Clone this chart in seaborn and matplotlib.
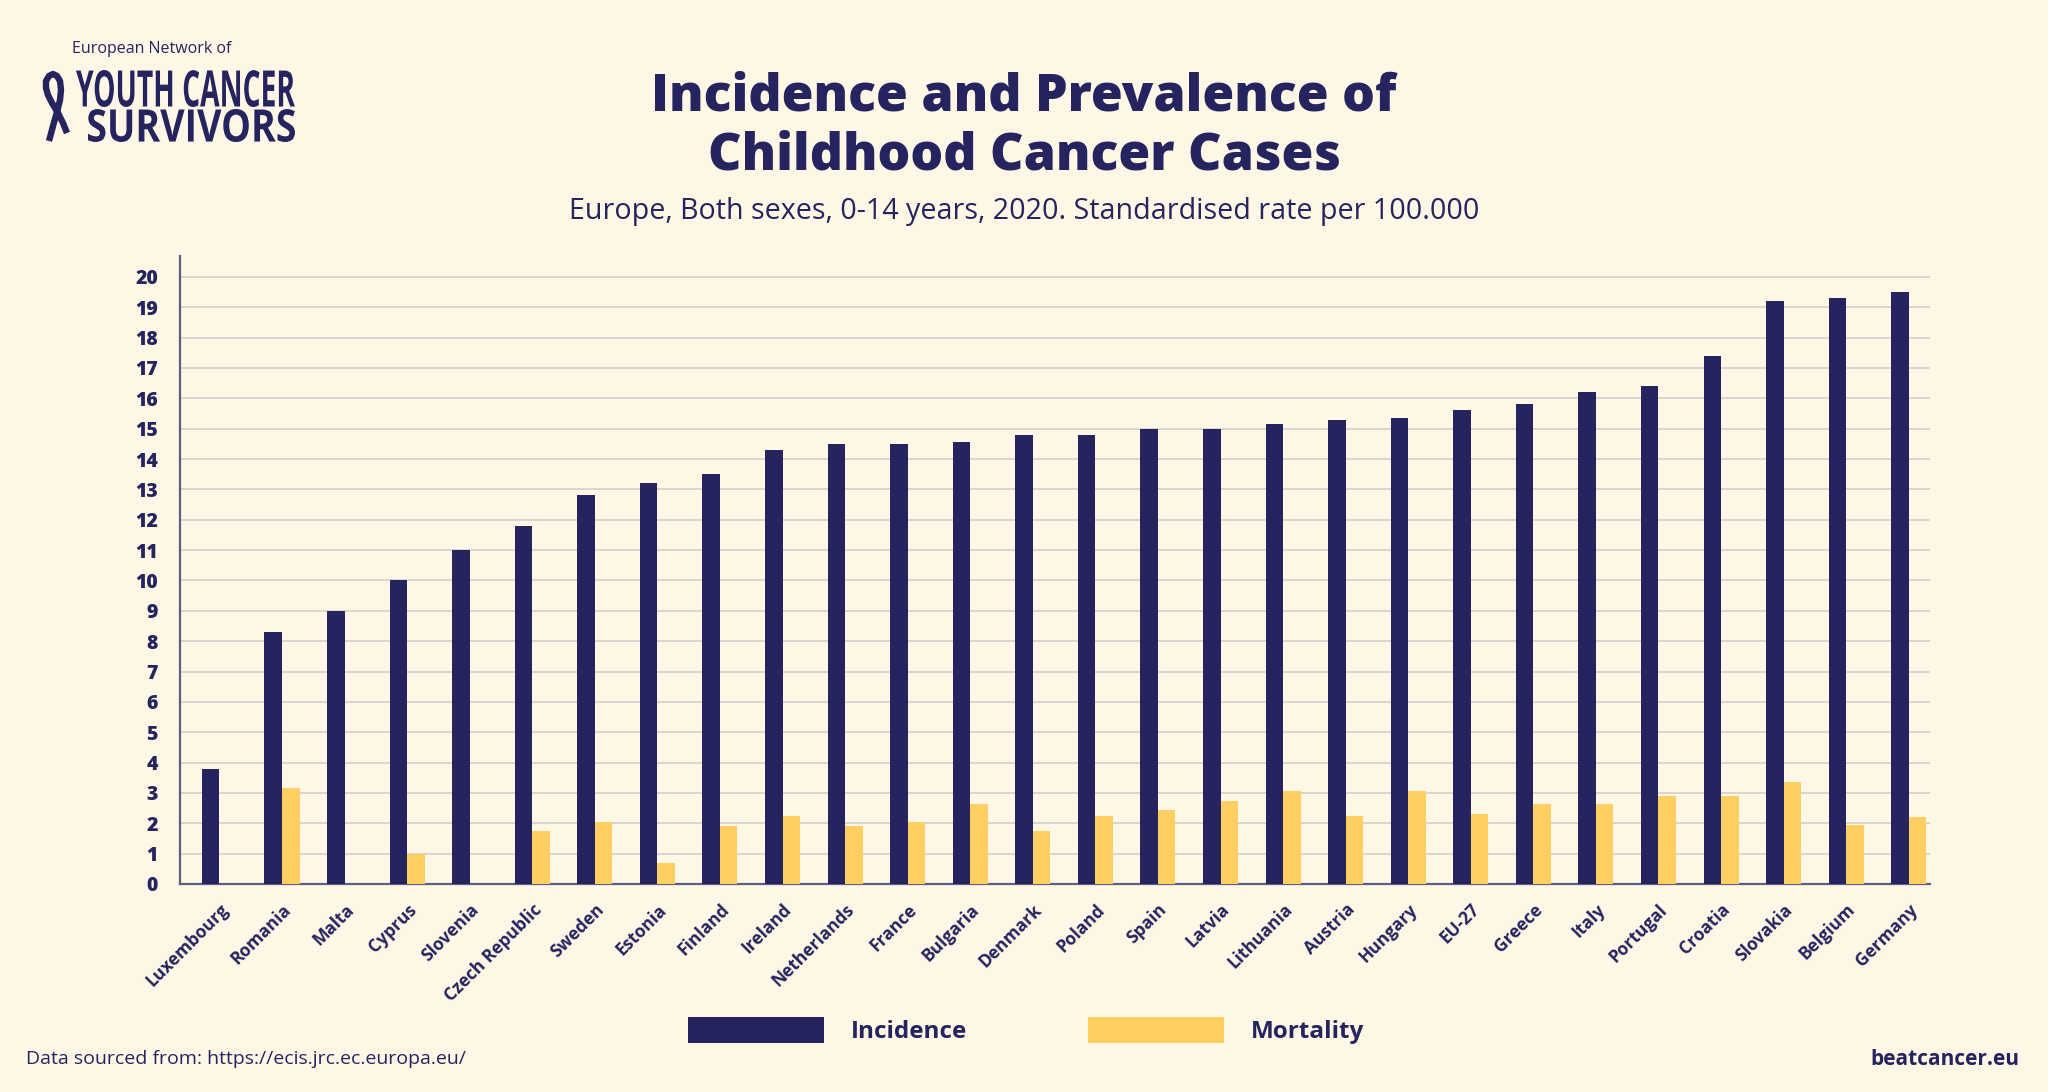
import matplotlib
matplotlib.use("Agg")
import matplotlib.pyplot as plt
import matplotlib.transforms as mtransforms
import pandas as pd
import seaborn as sns

from matplotlib.font_manager import FontProperties
from matplotlib.lines import Line2D
from matplotlib.patches import PathPatch
from matplotlib.textpath import TextPath

# ==========================
# DADOS
# ==========================

COUNTRIES = [
    "Luxembourg", "Romania", "Malta", "Cyprus", "Slovenia", "Czech Republic",
    "Sweden", "Estonia", "Finland", "Ireland", "Netherlands", "France",
    "Bulgaria", "Denmark", "Poland", "Spain", "Latvia", "Lithuania",
    "Austria", "Hungary", "EU-27", "Greece", "Italy", "Portugal",
    "Croatia", "Slovakia", "Belgium", "Germany",
]

INCIDENCE = [
    3.8, 8.3, 9.0, 10.0, 11.0, 11.8,
    12.8, 13.2, 13.5, 14.3, 14.5, 14.5,
    14.55, 14.8, 14.8, 15.0, 15.0, 15.15,
    15.3, 15.35, 15.6, 15.8, 16.2, 16.4,
    17.4, 19.2, 19.3, 19.5,
]

MORTALITY = [
    0.0, 3.15, 0.0, 1.0, 0.0, 1.75,
    2.05, 0.7, 1.9, 2.25, 1.9, 2.05,
    2.65, 1.75, 2.25, 2.45, 2.75, 3.05,
    2.25, 3.05, 2.3, 2.65, 2.65, 2.9,
    2.9, 3.35, 1.95, 2.2,
]

SERIES = ["Incidence", "Mortality"]
Y_TICKS = list(range(0, 21))

TITLE = "Incidence and Prevalence of\nChildhood Cancer Cases"
SUBTITLE = "Europe, Both sexes, 0-14 years, 2020. Standardised rate per 100.000"
SOURCE = "Data sourced from: https://ecis.jrc.ec.europa.eu/"

# ==========================
# ESTILO
# ==========================

NAVY = "#25245E"
YELLOW = "#FFD061"
BG = "#FEF7E6"
GRID = "#D8D2CB"
FONT = ["Open Sans", "DejaVu Sans"]

sns.set_theme(style="white")
plt.rcParams["font.family"] = FONT


def montar_tabela():
    df = pd.DataFrame({
        "country": COUNTRIES * 2,
        "measure": [SERIES[0]] * len(COUNTRIES) + [SERIES[1]] * len(COUNTRIES),
        "value": INCIDENCE + MORTALITY,
    })
    return df


def texto_esticado(fig, texto, x0, x1, y0, y1):
    """
    Desenha um texto condensado ocupando a caixa (pixels, origem embaixo).
    """
    tp = TextPath((0, 0), texto, size=1,
                  prop=FontProperties(family=FONT, weight="bold"))
    bb = tp.get_extents()
    trans = (
        mtransforms.Affine2D()
        .translate(-bb.x0, -bb.y0)
        .scale((x1 - x0) / bb.width, (y1 - y0) / bb.height)
        .translate(x0, y0)
    )
    patch = PathPatch(tp, facecolor=NAVY, edgecolor="none",
                      transform=trans + mtransforms.IdentityTransform())
    fig.add_artist(patch)


def laco(fig, H):
    """
    Laço simples do logotipo (coordenadas em pixels a partir do topo).
    """
    xs = [49, 53, 57, 60, 61, 60, 57, 53, 49, 46, 46, 48, 52, 58, 63, 67]
    ys = [141, 126, 112, 100, 90, 81, 76, 74, 76, 81, 88, 95, 103, 113, 123, 133]
    linha = Line2D(xs, [H - y for y in ys], color=NAVY, linewidth=4.6,
                   solid_capstyle="butt", solid_joinstyle="round",
                   transform=mtransforms.IdentityTransform())
    fig.add_artist(linha)


def grafico(df):
    fig = plt.figure(figsize=(20.48, 10.92), dpi=100)
    fig.patch.set_facecolor(BG)
    H = 1092

    ax = fig.add_axes([0.0879, 0.1905, 0.9424 - 0.0879, 0.7656 - 0.1905])
    ax.set_facecolor(BG)

    sns.barplot(
        data=df, x="country", y="value", hue="measure",
        palette=[NAVY, YELLOW], saturation=1, width=0.56, linewidth=0,
        errorbar=None, ax=ax, zorder=3,
    )

    ax.set_xlim(-0.63, len(COUNTRIES) - 1 + 0.34)
    ax.set_ylim(0, 20.69)
    ax.set_yticks(Y_TICKS)
    ax.set_yticklabels([str(t) for t in Y_TICKS], fontsize=14,
                       fontweight="heavy", color=NAVY)
    ax.yaxis.grid(True, color=GRID, linewidth=1.3, zorder=0)
    ax.set_axisbelow(True)
    ax.tick_params(axis="y", length=0, pad=16)
    ax.tick_params(axis="x", length=0, pad=12)

    ax.set_xticks(range(len(COUNTRIES)))
    ax.set_xticklabels(COUNTRIES, rotation=45, ha="right",
                       rotation_mode="anchor", fontsize=12.5,
                       fontweight="bold", color=NAVY)
    ax.set_xlabel("")
    ax.set_ylabel("")

    for lado in ["top", "right"]:
        ax.spines[lado].set_visible(False)
    ax.spines["left"].set_color("#5E5D84")
    ax.spines["left"].set_linewidth(1.6)
    ax.spines["bottom"].set_color("#5E5D84")
    ax.spines["bottom"].set_linewidth(1.6)

    # legenda
    handles, labels = ax.get_legend_handles_labels()
    ax.legend_.remove()
    leg = fig.legend(
        handles, labels, loc="center", bbox_to_anchor=(0.501, 0.056),
        ncol=2, frameon=False, handlelength=5.6, handleheight=1.25,
        handletextpad=1.1, columnspacing=5.0,
        prop={"family": FONT, "weight": "bold", "size": 17.5},
    )
    for txt in leg.get_texts():
        txt.set_color(NAVY)

    # títulos
    fig.text(0.5, 0.884, TITLE, ha="center", va="center", fontsize=37.3,
             fontweight="heavy", color=NAVY, linespacing=1.2)
    fig.text(0.5, 0.806, SUBTITLE, ha="center", va="center", fontsize=20.6,
             color=NAVY)

    # rodapé
    fig.text(0.0127, 0.03, SOURCE, ha="left", va="center", fontsize=14,
             color=NAVY)
    fig.text(0.986, 0.03, "beatcancer.eu", ha="right", va="center",
             fontsize=15, fontweight="bold", color=NAVY)

    # logotipo
    fig.text(0.0352, 0.955, "European Network of", ha="left", va="center",
             fontsize=11.5, color=NAVY)
    texto_esticado(fig, "YOUTH CANCER", 76, 295, H - 107, H - 70)
    texto_esticado(fig, "SURVIVORS", 88, 295, H - 142, H - 109)
    laco(fig, H)

    fig.savefig("out.png", dpi=100, facecolor=BG)


def main():
    df = montar_tabela()
    grafico(df)


if __name__ == "__main__":
    main()
